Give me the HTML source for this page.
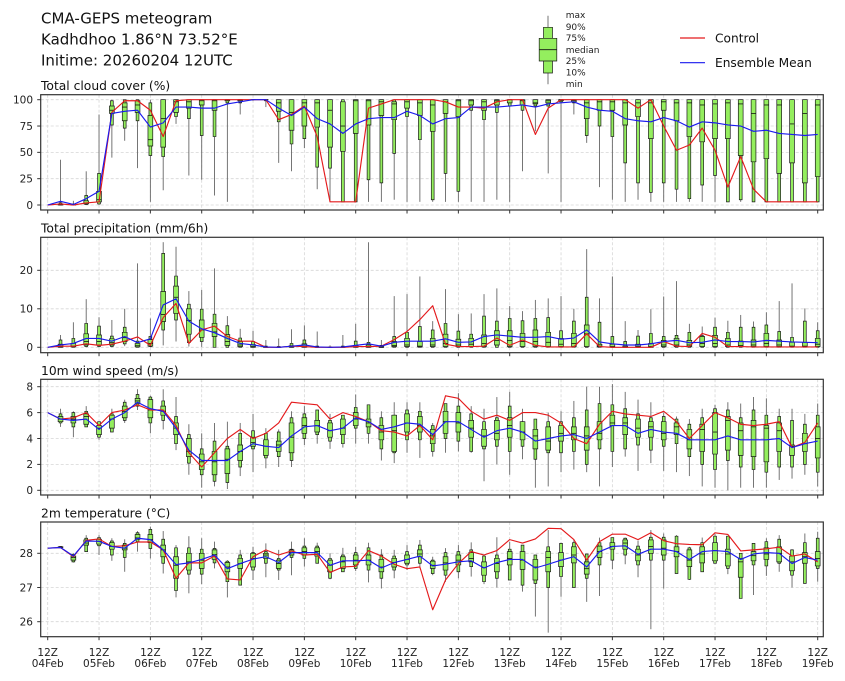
<!DOCTYPE html>
<html><head><meta charset="utf-8">
<style>
html,body{margin:0;padding:0;background:#fff;}
svg{display:block;font-family:"DejaVu Sans","Liberation Sans",sans-serif;}
.wh{stroke:#666;stroke-width:0.9;}
.bx{fill:#94ee5e;stroke:#1a1a1a;stroke-width:0.7;}
.md{stroke:#111;stroke-width:0.8;}
.gr{stroke:#d6d6d6;stroke-width:0.8;stroke-dasharray:3,2;}
.fr{fill:none;stroke:#333;stroke-width:1.2;}
.tk{stroke:#333;stroke-width:1;}
.yl{font-size:10.5px;fill:#222;text-anchor:end;}
.xl{font-size:10.5px;fill:#222;text-anchor:middle;}
.pt{font-size:12.3px;fill:#111;}
</style></head>
<body>
<svg id="s" width="845" height="681" viewBox="0 0 845 681" xmlns="http://www.w3.org/2000/svg">
<rect width="845" height="681" fill="#fff"/>
<g id="grid"></g>
<g id="data"></g>
<rect class="fr" x="40.7" y="94.7" width="782.6" height="115.3"/>
<rect class="fr" x="40.7" y="237.3" width="782.6" height="115.4"/>
<rect class="fr" x="40.7" y="379.3" width="782.6" height="115.7"/>
<rect class="fr" x="40.7" y="522" width="782.6" height="114.7"/>
<g id="ticks"></g>

<text x="41" y="23.5" style="font-size:15px" fill="#111">CMA-GEPS meteogram</text>
<text x="41" y="44.5" style="font-size:15px" fill="#111">Kadhdhoo 1.86°N 73.52°E</text>
<text x="41" y="65.3" style="font-size:15px" fill="#111">Initime: 20260204 12UTC</text>

<text class="pt" x="41" y="90">Total cloud cover (%)</text>
<text class="pt" x="41" y="232.7">Total precipitation (mm/6h)</text>
<text class="pt" x="41" y="375">10m wind speed (m/s)</text>
<text class="pt" x="41" y="517.3">2m temperature (°C)</text>

<text class="yl" x="33" y="103.5">100</text>
<text class="yl" x="33" y="129.8">75</text>
<text class="yl" x="33" y="156.2">50</text>
<text class="yl" x="33" y="182.5">25</text>
<text class="yl" x="33" y="208.8">0</text>

<text class="yl" x="33" y="274.1">20</text>
<text class="yl" x="33" y="312.6">10</text>
<text class="yl" x="33" y="351.1">0</text>

<text class="yl" x="33" y="390.5">8</text>
<text class="yl" x="33" y="416.4">6</text>
<text class="yl" x="33" y="442.3">4</text>
<text class="yl" x="33" y="468.2">2</text>
<text class="yl" x="33" y="494.1">0</text>

<text class="yl" x="33" y="557.1">28</text>
<text class="yl" x="33" y="591.3">27</text>
<text class="yl" x="33" y="625.5">26</text>

<g>
<text class="xl" x="47.7" y="655.8">12Z</text><text class="xl" x="47.7" y="667.2">04Feb</text>
<text class="xl" x="99.0" y="655.8">12Z</text><text class="xl" x="99.0" y="667.2">05Feb</text>
<text class="xl" x="150.4" y="655.8">12Z</text><text class="xl" x="150.4" y="667.2">06Feb</text>
<text class="xl" x="201.7" y="655.8">12Z</text><text class="xl" x="201.7" y="667.2">07Feb</text>
<text class="xl" x="253.0" y="655.8">12Z</text><text class="xl" x="253.0" y="667.2">08Feb</text>
<text class="xl" x="304.4" y="655.8">12Z</text><text class="xl" x="304.4" y="667.2">09Feb</text>
<text class="xl" x="355.7" y="655.8">12Z</text><text class="xl" x="355.7" y="667.2">10Feb</text>
<text class="xl" x="407.0" y="655.8">12Z</text><text class="xl" x="407.0" y="667.2">11Feb</text>
<text class="xl" x="458.4" y="655.8">12Z</text><text class="xl" x="458.4" y="667.2">12Feb</text>
<text class="xl" x="509.7" y="655.8">12Z</text><text class="xl" x="509.7" y="667.2">13Feb</text>
<text class="xl" x="561.0" y="655.8">12Z</text><text class="xl" x="561.0" y="667.2">14Feb</text>
<text class="xl" x="612.4" y="655.8">12Z</text><text class="xl" x="612.4" y="667.2">15Feb</text>
<text class="xl" x="663.7" y="655.8">12Z</text><text class="xl" x="663.7" y="667.2">16Feb</text>
<text class="xl" x="715.0" y="655.8">12Z</text><text class="xl" x="715.0" y="667.2">17Feb</text>
<text class="xl" x="766.4" y="655.8">12Z</text><text class="xl" x="766.4" y="667.2">18Feb</text>
<text class="xl" x="817.7" y="655.8">12Z</text><text class="xl" x="817.7" y="667.2">19Feb</text>
</g>

<line x1="548" y1="15.7" x2="548" y2="84.3" class="wh"/>
<path d="M543.5 27.3H552.5V73H543.5Z" class="bx"/>
<path d="M539.2 38.3H556.8V61H539.2Z" class="bx"/>
<line x1="539.2" y1="49.7" x2="556.8" y2="49.7" class="md"/>
<g style="font-size:9px" fill="#222">
<text x="565.7" y="18.2">max</text>
<text x="565.7" y="29.8">90%</text>
<text x="565.7" y="41.2">75%</text>
<text x="565.7" y="52.8">median</text>
<text x="565.7" y="64.2">25%</text>
<text x="565.7" y="75.6">10%</text>
<text x="565.7" y="87">min</text>
</g>
<line x1="680" y1="38" x2="705" y2="38" stroke="#e41a1c" stroke-width="1.2"/>
<text x="715" y="42.4" style="font-size:12.2px" fill="#111">Control</text>
<line x1="680" y1="62.7" x2="705" y2="62.7" stroke="#1a1aee" stroke-width="1.2"/>
<text x="715" y="67.1" style="font-size:12.2px" fill="#111">Ensemble Mean</text>
</svg>

<script>
(function(){
const X0=47.7, DX=12.8333;
const px=i=>X0+DX*i;
const F=n=>n.toFixed(2);
const WW=2.4, NW=1.4;

const cloudS=[
[0,0,0,0.5,1,2,43],[0,0,0,0,0.5,1,4],[0,0.5,1,2,4,9,32],[0,1,3,5,13,30,86],
[45,76,87,90,94,99,100],[61,73,80,93,97,100,100],[35,80,88,95,99,100,100],[3,47,56,62,85,97,100],
[14,46,55,82,100,100,100],[77,84,88,98,100,100,100],[28,82,92,98,100,100,100],[24,66,95,99,100,100,100],
[9,65,90,99,100,100,100],[3,97,99,100,100,100,100],[86,97,99,100,100,100,100],[99,100,100,100,100,100,100],
[93,99,100,100,100,100,100],[40,79,89,97,100,100,100],[32,58,71,88,100,100,100],[54,63,75,97,100,100,100],
[15,36,74,97,100,100,100],[3,35,55,90,100,100,100],[3,3,51,75,98,100,100],[3,3,68,99,100,100,100],
[3,24,76,99,100,100,100],[3,21,85,98,100,100,100],[5,49,81,96,98,100,100],[3,84,92,98,100,100,100],
[3,62,85,97,100,100,100],[3,5,70,95,100,100,100],[3,30,87,98,100,100,100],[3,13,84,99,100,100,100],
[3,90,95,99,100,100,100],[3,81,90,98,100,100,100],[5,88,95,99,100,100,100],[3,94,97,100,100,100,100],
[32,90,95,99,100,100,100],[70,94,96,97,100,100,100],[30,94,97,99,100,100,100],[3,98,99,100,100,100,100],
[86,97,98,99,100,100,100],[59,66,82,97,100,100,100],[17,75,90,98,100,100,100],[5,65,90,98,100,100,100],
[3,40,76,97,100,100,100],[5,21,84,97,100,100,100],[3,12,63,97,100,100,100],[3,21,90,98,100,100,100],
[3,15,80,97,100,100,100],[3,6,65,97,100,100,100],[3,19,60,95,100,100,100],[3,28,63,96,100,100,100],
[3,3,63,97,100,100,100],[3,5,47,96,100,100,100],[3,3,41,87,100,100,100],[3,3,44,95,100,100,100],
[3,3,30,95,100,100,100],[3,3,40,77,100,100,100],[3,3,21,87,100,100,100],[3,3,27,95,100,100,100]];
const cloudM=[0,3.5,0.5,6,13,87,89,90,74,78,93,93,92,92,96,98,100,100,92,85,93,82,77,68,77,82,83,83,89,85,77,82,83,93,93,93,94,95,93,96,97,98,93,90,89,82,80,79,83,80,74,79,78,76,75,70,71,68,67,66,67];
const cloudC=[0,1,0,2,3,88,99,99,90,65,99,100,100,100,100,100,100,100,81,86,94,65,3,3,3,92,96,100,100,100,100,98,93,93,92,98,100,100,67,92,100,100,100,100,100,100,92,100,75,52,57,73,52,17,46,15,3,3,3,3,3];

const precS=[
[0,0,0,0.2,0.8,1.9,3.2],[0,0,0.1,0.3,1,2.3,6.5],[0,0.2,0.6,1.5,3.5,6.2,12.5],[0,0.2,0.6,1.5,3.2,5.5,7.8],
[0,0.2,0.6,1.2,2.2,2.9,7.1],[0.3,0.9,1.5,2.5,3.9,5.2,10],[0,0,0.1,0.4,1,1.6,21.8],[0,0.2,0.3,1,2,2.8,7.5],
[0.5,4.5,6.7,8.5,14.5,24.4,27.3],[1.5,7.1,8.8,13,15.9,18.5,26.1],[0.2,1.2,3.4,7,10,11.2,14.6],[0.1,1.5,2.6,4.5,7.1,9.9,14.9],
[0,0,2.8,4,6.2,8.6,20.5],[0,0,0.5,1.5,3.3,5.6,8.1],[0,0,0.2,0.6,1.5,2.4,4.8],[0,0,0,0.2,0.7,1.5,4.3],
[0,0,0,0,0.1,0.3,1.9],[0,0,0,0,0,0.2,2.3],[0,0,0,0.1,0.4,1,4.7],[0,0,0,0.2,0.9,1.9,5.7],
[0,0,0,0,0.1,0.3,4.1],[0,0,0,0,0,0.1,0.5],[0,0,0,0,0.1,0.3,3.2],[0,0,0,0.1,0.5,1.6,6.1],
[0,0,0,0.1,0.6,1.3,27.3],[0,0,0,0,0.2,0.5,1.9],[0,0,0.2,0.5,1.5,2.8,13.3],[0,0,0.2,0.6,2.3,3.9,13.8],
[0,0,0.1,0.3,1.5,5.4,18.4],[0,0,0.2,0.6,2.3,4.5,6.8],[0,0,0.2,1,3.4,6.2,15.1],[0,0,0.2,0.6,2.1,4.2,8.6],
[0,0,0.2,0.8,2.3,3.4,8.8],[0,0,0.2,1,3.2,8.1,13.8],[0,0,0.6,1.8,4.3,6.8,15.3],[0,0,0.2,1.8,4.3,7.5,10.7],
[0,0,0.2,1.5,3.6,6.9,9.4],[0,0,0.2,1.5,4.5,7.5,12.3],[0,0,0.2,1.3,3.9,7.7,12.7],[0,0,0.2,0.8,2.3,4.3,13.3],
[0,0,0.2,1,3.6,6.8,10],[0,0,0.2,3.5,5.8,13,25.5],[0,0,0.1,0.3,0.8,6.5,12.7],[0,0,0,0.2,0.8,2.8,18.4],
[0,0,0,0,0.3,1.5,6.8],[0,0,0,0.2,0.8,2.9,4.5],[0,0,0,0.2,1,3.6,9.9],[0,0,0.2,0.6,1.8,2.8,13.2],
[0,0,0.2,0.6,2.3,3.1,17.2],[0,0,0.2,0.6,1.8,3.9,6.1],[0,0,0.2,1,2.8,3,5.4],[0,0,0.2,1,3.1,5.2,7.7],
[0,0,0.2,0.6,2.3,3.9,6.9],[0,0,0.2,0.5,1.6,5.2,8.4],[0,0,0.2,0.6,1.9,5.2,6.7],[0,0,0.2,1,3.6,5.8,9.1],
[0,0,0.2,0.6,1.9,4.1,12],[0,0,0.1,0.3,1.3,2.6,16.6],[0,0,0.1,0.3,1.3,6.8,10.1],[0,0,0.2,0.8,2.3,4.3,6.5]];
const precM=[0,0.6,1,2.3,2.3,1.6,2.8,1.2,2.2,11,12.6,6.8,4.8,3.8,2.3,1,0.6,0.1,0,0.3,0.6,0.1,0,0.1,0.5,0.9,0.3,1.3,1.6,1.6,1.6,2.2,1.3,1.4,2.8,3.2,2.9,2.6,2.6,2.8,2.1,2.4,4.5,1.4,0.9,0.6,0.6,0.9,1.5,1.8,1.2,1.3,1.9,1.5,1.5,1.4,1.8,1.6,1.4,1.3,1.2];
const precC=[0,0.3,0.3,0.9,0.5,0.8,1.6,2.7,0.5,7.7,11.4,1,4.5,5.5,2.8,1.6,1.6,0,0,0.3,0.2,0,0,0,0.2,0.2,0.3,2,4.1,7.2,10.8,0.8,0.2,0.2,0.3,2.4,0.5,1.9,0.5,0.1,0.1,0.1,3.5,0.2,0,0,0,0,1.5,0.3,0.2,3.6,2.6,0.2,0.2,0.1,0.1,0.1,0.1,0.1,0.1];

const windS=[
[4.9,5.2,5.3,5.5,5.7,5.9,6.3],[4.1,4.9,5.2,5.5,5.7,6.0,6.1],[4.9,4.9,5.1,5.7,5.9,6.1,6.5],[3.9,4.1,4.3,4.8,5.0,5.3,5.3],
[4.5,4.5,4.8,5.5,5.8,5.9,6.3],[5.2,5.4,5.6,6.1,6.5,6.8,7.0],[6.2,6.5,6.7,6.9,7.1,7.4,7.8],[4.4,5.2,5.6,6.2,7.0,7.2,7.3],
[4.7,5.4,5.8,6.1,6.5,6.9,7.8],[3.1,3.6,4.3,4.8,5.2,5.7,7.2],[1.2,2.1,2.6,3.0,4.0,4.3,5.1],[0.2,1.2,1.6,2.2,2.8,3.2,4.4],
[0.3,0.7,1.2,2.2,3.0,3.8,5.2],[0.1,0.6,1.3,2.4,3.2,3.4,5.3],[1.1,1.8,2.3,3.0,3.5,4.4,5.2],[1.4,3.2,3.4,3.7,4.1,4.6,5.9],
[1.7,2.5,2.7,3.4,3.9,4.4,4.8],[1.8,2.6,3.0,3.5,3.8,4.5,4.7],[1.8,2.3,2.9,4.1,5.2,5.6,6.1],[3.5,4.0,4.4,5.0,5.6,5.9,6.5],
[3.6,4.3,4.5,5.0,5.4,6.2,6.2],[3.2,3.8,4.1,4.6,5.2,5.4,5.9],[3.3,3.6,4.3,4.8,5.5,5.8,5.8],[3.6,4.8,5.0,5.5,6.0,6.4,7.4],
[3.6,4.4,4.9,5.2,5.5,6.6,6.6],[2.3,3.2,3.9,4.5,5.0,5.6,6.1],[2.1,2.9,3.0,4.6,5.8,5.8,6.8],[2.9,3.9,4.5,5.2,5.9,6.2,6.8],
[2.5,3.9,4.5,5.0,5.7,6.1,6.8],[2.6,3.0,3.6,4.2,4.7,5.0,5.2],[2.9,4.0,4.4,5.3,6.1,6.7,6.7],[3.0,3.8,4.5,5.2,6.0,6.5,7.5],
[2.9,3.0,4.1,4.8,5.4,5.9,6.5],[0.7,3.2,3.4,4.2,4.7,5.3,6.3],[2.0,3.4,3.9,4.4,5.4,5.6,7.2],[1.2,3.0,4.1,5.0,5.6,6.5,7.6],
[2.4,3.4,3.9,4.5,5.3,5.3,6.3],[0.2,2.4,3.2,4.2,4.7,5.5,5.5],[0.3,2.9,3.1,3.8,4.9,5.3,6.0],[1.4,2.9,3.8,4.4,5.0,5.3,6.1],
[1.6,3.0,3.9,4.4,4.9,5.6,6.9],[1.4,2.0,3.1,4.2,4.9,6.2,8.0],[0.3,3.2,3.9,4.4,5.3,6.7,8.0],[1.8,3.0,5.0,5.2,5.8,6.6,8.2],
[2.6,3.2,4.3,5.2,5.6,6.3,7.6],[1.5,3.5,4.1,4.8,5.5,5.9,7.0],[2.1,3.1,4.1,4.9,5.3,5.6,6.8],[1.5,3.4,3.9,4.4,5.3,5.7,6.0],
[1.4,3.6,4.3,4.9,5.2,5.5,5.7],[1.1,2.6,3.2,3.9,4.7,5.1,5.5],[0.3,2.0,3.0,4.7,5.1,5.6,6.3],[0.2,1.6,2.8,4.5,6.0,6.3,6.6],
[0.0,2.3,3.1,5.4,5.7,6.2,6.8],[0.2,1.8,2.7,4.6,5.2,5.6,6.7],[0.2,1.6,2.6,4.9,5.4,6.2,7.2],[0.2,1.4,2.2,4.8,5.0,5.8,7.1],
[0.8,1.8,3.0,4.6,5.2,5.7,6.3],[0.9,1.8,2.7,3.4,3.5,5.4,6.3],[1.2,2.0,3.0,3.6,4.4,5.1,5.9],[0.3,1.4,2.5,4.0,4.9,5.8,6.7]];
const windM=[6.0,5.5,5.4,5.5,4.7,5.5,6.0,6.8,6.3,6.1,4.8,3.1,2.3,2.3,2.3,3.0,3.6,3.4,3.3,4.2,4.9,5.0,4.6,4.8,5.6,5.3,4.7,4.9,5.2,5.1,4.3,5.3,5.3,4.7,4.1,4.6,4.8,4.5,3.8,4.0,4.2,4.3,4.0,4.5,5.0,5.0,4.4,4.7,4.5,4.4,3.9,3.9,3.9,4.2,3.9,3.9,3.9,4.0,3.3,3.6,3.8];
const windC=[6.0,5.5,5.6,6.0,5.0,6.0,6.2,6.6,6.2,6.2,5.0,2.9,1.8,2.9,4.0,4.7,4.0,4.4,5.2,6.8,6.7,6.6,5.5,6.0,5.7,5.3,4.6,4.5,4.2,5.0,3.9,7.3,7.1,6.1,5.5,5.8,5.4,6.0,6.0,5.8,5.2,4.0,3.6,5.1,6.1,5.9,5.8,5.7,6.1,5.3,4.0,5.0,6.0,5.6,5.1,5.0,5.1,5.3,3.3,3.7,5.2];

const tempS=[
[28.15,28.16,28.17,28.18,28.19,28.2,28.21],[27.73,27.75,27.8,27.88,27.92,27.97,28.0],[28.05,28.05,28.24,28.3,28.39,28.44,28.53],[27.95,28.22,28.27,28.35,28.41,28.46,28.53],
[27.78,27.95,28.12,28.2,28.31,28.36,28.44],[27.46,27.88,28.1,28.15,28.24,28.29,28.41],[28.05,28.34,28.41,28.45,28.55,28.6,28.65],[27.85,28.14,28.31,28.4,28.55,28.7,28.78],
[27.41,27.71,27.9,28.1,28.24,28.41,28.65],[26.71,26.91,27.27,27.65,27.9,28.16,28.24],[26.83,27.39,27.51,27.75,28.0,28.16,28.5],[27.1,27.39,27.56,27.8,28.0,28.12,28.44],
[27.56,27.72,27.82,27.96,28.1,28.14,28.34],[26.71,27.17,27.46,27.6,27.73,27.77,27.8],[27.07,27.07,27.56,27.7,27.85,27.95,28.1],[27.22,27.51,27.6,27.85,28.0,28.02,28.19],
[27.3,27.71,27.85,27.95,28.0,28.05,28.29],[27.22,27.51,27.56,27.7,27.8,27.85,28.1],[27.36,27.88,27.95,28.02,28.1,28.12,28.34],[27.61,27.85,27.95,28.05,28.16,28.21,28.44],
[27.71,27.71,27.92,28.05,28.16,28.21,28.31],[27.24,27.27,27.46,27.65,27.8,27.85,28.0],[27.46,27.46,27.56,27.75,27.9,27.95,28.16],[27.48,27.56,27.66,27.8,27.95,28.02,28.19],
[27.15,27.51,27.66,27.8,27.95,28.16,28.31],[26.97,27.27,27.46,27.6,27.82,27.95,28.12],[27.27,27.51,27.6,27.73,27.85,27.92,28.1],[27.51,27.66,27.71,27.82,27.95,28.05,28.24],
[27.56,27.71,27.9,27.98,28.1,28.24,28.39],[27.36,27.41,27.56,27.65,27.77,27.8,27.9],[27.17,27.36,27.51,27.72,27.9,28.02,28.15],[27.27,27.46,27.66,27.8,27.95,28.05,28.24],
[27.32,27.61,27.75,27.85,28.02,28.1,28.32],[27.1,27.17,27.36,27.58,27.75,27.92,27.97],[27.0,27.27,27.46,27.7,27.85,27.95,28.47],[27.22,27.22,27.66,27.85,28.05,28.12,28.34],
[26.88,27.07,27.53,27.8,28.05,28.24,28.24],[26.15,27.12,27.22,27.6,27.82,27.95,27.95],[25.68,27.0,27.46,27.88,28.05,28.19,28.68],[26.73,27.32,27.61,27.8,28.02,28.29,28.31],
[27.0,27.0,27.72,27.95,28.19,28.31,28.41],[26.58,27.27,27.39,27.55,27.75,27.98,27.98],[26.75,27.66,27.88,28.05,28.21,28.31,28.46],[27.54,27.8,28.12,28.2,28.31,28.46,28.46],
[27.68,27.95,28.12,28.3,28.39,28.44,28.46],[27.3,27.66,27.78,27.95,28.12,28.21,28.37],[25.78,27.8,28.0,28.2,28.39,28.47,28.68],[26.97,27.8,27.95,28.15,28.39,28.47,28.58],
[27.41,27.41,27.9,28.05,28.19,28.5,28.53],[27.22,27.24,27.61,27.8,28.1,28.16,28.19],[27.46,27.46,27.72,27.98,28.19,28.31,28.46],[27.71,27.71,27.78,28.08,28.31,28.5,28.56],
[27.39,27.56,27.63,27.98,28.12,28.5,28.5],[26.68,26.68,27.3,27.75,27.85,28.0,28.0],[26.78,27.66,27.78,27.93,28.05,28.29,28.29],[27.34,27.63,27.82,27.98,28.16,28.34,28.44],
[27.46,27.71,27.75,28.0,28.19,28.41,28.53],[27.0,27.36,27.49,27.75,27.92,28.1,28.12],[27.12,27.12,27.71,27.9,28.02,28.31,28.58],[27.17,27.56,27.63,27.85,28.05,28.44,28.63]];
const tempM=[28.15,28.17,27.92,28.36,28.35,28.2,28.15,28.44,28.4,28.1,27.67,27.72,27.82,27.95,27.55,27.7,27.83,27.9,27.73,28.02,28.02,28.02,27.65,27.78,27.78,27.8,27.57,27.73,27.82,27.92,27.63,27.68,27.75,27.78,27.57,27.73,27.82,27.82,27.57,27.68,27.8,27.9,27.6,28.05,28.2,28.22,27.97,28.12,28.12,28.05,27.82,28.05,28.08,28.05,27.82,27.98,28.02,28.0,27.7,27.88,27.8];
const tempC=[28.15,28.17,27.9,28.38,28.42,28.2,28.22,28.33,28.33,28.1,27.27,27.72,27.72,27.92,27.25,27.22,27.9,28.1,27.95,28.07,27.95,27.97,27.44,27.6,27.62,28.08,27.92,27.68,27.55,27.6,26.35,27.22,27.7,28.05,27.95,28.08,28.4,28.3,28.42,28.73,28.72,28.4,27.8,28.34,28.56,28.56,28.4,28.6,28.37,28.28,28.26,28.25,28.6,28.55,28.07,28.1,28.13,28.18,27.92,27.98,27.75];

const P=[
 {top:94.7,bot:210,f:v=>205-1.053*v,yt:[0,25,50,75,100],s:cloudS,m:cloudM,c:cloudC},
 {top:237.3,bot:352.7,f:v=>347.3-3.85*v,yt:[0,10,20],s:precS,m:precM,c:precC},
 {top:379.3,bot:495,f:v=>490.3-12.95*v,yt:[0,2,4,6,8],s:windS,m:windM,c:windC},
 {top:522,bot:636.7,f:v=>553.3-34.2*(v-28),yt:[26,27,28],s:tempS,m:tempM,c:tempC}
];
const L=40.7,R=823.3;
let g='',d='',t='';
P.forEach(p=>{
  for(let k=0;k<16;k++){const x=F(X0+51.3333*k);
    g+=`<line class="gr" x1="${x}" x2="${x}" y1="${p.top}" y2="${p.bot}"/>`;
    t+=`<line class="tk" x1="${x}" x2="${x}" y1="${p.bot}" y2="${F(p.bot+3.5)}"/>`;}
  p.yt.forEach(v=>{const y=F(p.f(v));
    g+=`<line class="gr" x1="${L}" x2="${R}" y1="${y}" y2="${y}"/>`;
    t+=`<line class="tk" x1="${F(L-3.5)}" x2="${L}" y1="${y}" y2="${y}"/>`;});
  p.s.forEach((s,k)=>{const i=k+1,x=px(i),y=s.map(p.f);
    d+=`<line class="wh" x1="${F(x)}" x2="${F(x)}" y1="${F(y[0])}" y2="${F(y[6])}"/>`;
    d+=`<path class="bx" d="M${F(x-NW)} ${F(y[5])}H${F(x+NW)}V${F(y[1])}H${F(x-NW)}Z"/>`;
    d+=`<path class="bx" d="M${F(x-WW)} ${F(y[4])}H${F(x+WW)}V${F(y[2])}H${F(x-WW)}Z"/>`;
    d+=`<line class="md" x1="${F(x-WW)}" x2="${F(x+WW)}" y1="${F(y[3])}" y2="${F(y[3])}"/>`;});
  const pl=(a,col)=>`<polyline fill="none" stroke="${col}" stroke-width="1.15" stroke-linejoin="round" points="${a.map((v,i)=>F(px(i))+','+F(p.f(v))).join(' ')}"/>`;
  d+=pl(p.c,'#e41a1c');
  d+=pl(p.m,'#1a1aee');
});
document.getElementById('grid').innerHTML=g;
document.getElementById('data').innerHTML=d;
document.getElementById('ticks').innerHTML=t;
})();
</script>
</body></html>
